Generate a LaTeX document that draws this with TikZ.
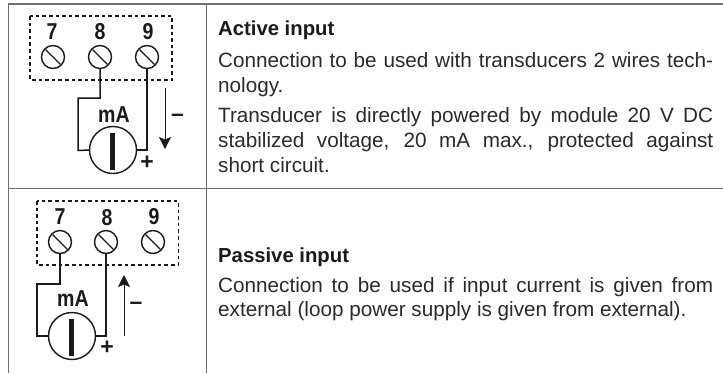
\documentclass[tikz,border=0pt]{standalone}
\usepackage{fontspec}
\setmainfont{Liberation Sans}
\usetikzlibrary{arrows.meta}
\definecolor{rule}{HTML}{6E6E6E}
\definecolor{ink}{HTML}{1A1A1A}
\definecolor{bodyink}{HTML}{2A2A2A}
\newcommand{\jline}[1]{\makebox[495pt][s]{#1}}
\tikzset{x=1pt,y=-1pt,
 frameline/.style={rule,line width=1.3pt},
 wire/.style={ink,line width=1.5pt},
 dashbox/.style={ink,line width=1.5pt,dash pattern=on 3.6pt off 3pt},
 screw/.style={circle,draw=ink,line width=1.4pt,minimum size=23pt,inner sep=0pt,
   path picture={\draw[ink,line width=1.4pt] ([shift={(4pt,-4pt)}]path picture bounding box.north west) -- ([shift={(-4pt,4pt)}]path picture bounding box.south east);}},
 meter/.style={circle,draw=ink,line width=1.4pt,fill=white,minimum size=47pt,inner sep=0pt},
 num/.style={inner sep=0pt,font=\fontsize{23}{23}\selectfont\bfseries,text=ink,xscale=.85},
 sign/.style={inner sep=0pt,font=\fontsize{23}{23}\selectfont\bfseries,text=ink},
 ma/.style={inner sep=0pt,font=\fontsize{23}{23}\selectfont\bfseries,text=ink,xscale=.85},
 body/.style={anchor=base west,inner sep=0pt,font=\fontsize{20.7}{20.7}\selectfont,text=bodyink},
 head/.style={anchor=base west,inner sep=0pt,font=\fontsize{20.3}{20.3}\selectfont\bfseries,text=ink},
 flow/.style={ink,line width=.9pt,-{Stealth[length=12pt,width=12pt,inset=2.5pt]}}}
\begin{document}
\begin{tikzpicture}
\useasboundingbox (0,0) rectangle (723,373);
\draw[frameline] (723,4) -- (8.5,4) -- (8.5,373);
\draw[frameline] (8.5,188.5) -- (723,188.5);
\draw[frameline] (206.5,4) -- (206.5,373);
\draw[dashbox] (30,16) rectangle (172,80);
\node[num] (n7) at (52,32) {7};
\node[num] (n8) at (100,32) {8};
\node[num] (n9) at (148,32) {9};
\node[screw] (s7) at (53,57) {};
\node[screw] (s8) at (100,57) {};
\node[screw] (s9) at (147,57) {};
\node[meter] (m1) at (113,150) {};
\fill[ink] (109.5,133) rectangle (115,170);
\node[ma] (l1) at (114,115) {mA};
\draw[wire] (s8.south) -- (100,98) -- (78,98) -- (78,150.5) -- (m1.west);
\draw[wire] (s9.south) -- (147,150) -- (m1.east);
\coordinate (a1s) at (165,88);
\coordinate (a1e) at (165,149);
\draw[flow] (a1s) -- (a1e);
\node[sign] (mi1) at (177.5,118) {–};
\node[sign] (pl1) at (147,163) {+};
\node[head] (t1) at (218,35) {Active input};
\node[body] (t2) at (218,67) {\jline{Connection to be used with transducers 2 wires tech-}};
\node[body] (t3) at (218,92) {nology.};
\node[body] (t4) at (218,122) {\jline{Transducer is directly powered by module 20 V DC}};
\node[body] (t5) at (218,147) {\jline{stabilized voltage, 20 mA max., protected against}};
\node[body] (t6) at (218,172) {short circuit.};
\draw[dashbox] (37,201) rectangle (178.5,265);
\node[num] (n17) at (60,217) {7};
\node[num] (n18) at (107,218) {8};
\node[num] (n19) at (154,217) {9};
\node[screw] (s17) at (60,242) {};
\node[screw] (s18) at (106,242) {};
\node[screw] (s19) at (153,242) {};
\node[meter] (m2) at (72,336) {};
\fill[ink] (68.5,319) rectangle (74,356);
\node[ma] (l2) at (73,299) {mA};
\draw[wire] (s17.south) -- (60,284) -- (37,284) -- (37,336) -- (m2.west);
\draw[wire] (s18.south) -- (106,336) -- (m2.east);
\coordinate (a2s) at (124,336);
\coordinate (a2e) at (124,275);
\draw[flow] (a2s) -- (a2e);
\node[sign] (mi2) at (136,306) {–};
\node[sign] (pl2) at (107,348) {+};
\node[head] (t7) at (218,262) {Passive input};
\node[body] (t8) at (218,292) {\jline{Connection to be used if input current is given from}};
\node[body] (t9) at (218,316) {external (loop power supply is given from external).};
\end{tikzpicture}
\end{document}
